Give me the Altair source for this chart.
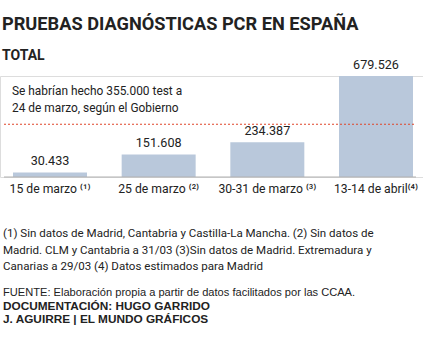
import altair as alt
import pandas as pd

categories = ["15 de marzo ⁽¹⁾", "25 de marzo ⁽²⁾", "30-31 de marzo ⁽³⁾", "13-14 de abril⁽⁴⁾"]
values = [30433, 151608, 234387, 679526]
government_estimate = 355000

title_text = "PRUEBAS DIAGNÓSTICAS PCR EN ESPAÑA"
subtitle_text = "TOTAL"
note_lines = ["Se habrían hecho 355.000 test a", "24 de marzo, según el Gobierno"]
footnote_lines = [
    "(1) Sin datos de Madrid, Cantabria y Castilla-La Mancha. (2) Sin datos de",
    "Madrid. CLM y Cantabria a 31/03 (3)Sin datos de Madrid. Extremadura y",
    "Canarias a 29/03 (4) Datos estimados para Madrid",
]
source_line = "FUENTE: Elaboración propia a partir de datos facilitados por las CCAA."
credit_lines = ["DOCUMENTACIÓN: HUGO GARRIDO", "J. AGUIRRE | EL MUNDO GRÁFICOS"]

df = pd.DataFrame({
    "cat": categories,
    "value": values,
    "label": [f"{v:,}".replace(",", ".") for v in values],
})

FONT = "Roboto"
SRC_FONT = "Liberation Sans"
TXT = "#222222"
TOP = 76

x_enc = alt.X("cat:N", sort=None, title=None,
              scale=alt.Scale(paddingInner=0.319, paddingOuter=0.1058, align=0.565),
              axis=alt.Axis(domain=False, ticks=False, labelAngle=0, labelFont=FONT,
                            labelFontSize=12.2, labelColor=TXT, labelPadding=5))
y_enc = alt.Y("value:Q", title=None, axis=None,
              scale=alt.Scale(domain=[0, max(values)], nice=False))

base = alt.Chart(df)
bars = base.mark_bar(color="#b9c8db").encode(x=x_enc, y=y_enc)
vals = base.mark_text(font=FONT, fontSize=12.6, color=TXT, baseline="alphabetic", dy=-7).encode(
    x=alt.X("cat:N", sort=None), y="value:Q", text="label:N")

red = alt.Chart(pd.DataFrame({"v": [government_estimate]})).mark_rule(
    color="#e0452a", strokeDash=[2, 2], strokeWidth=1.2).encode(
    y="v:Q", x=alt.value(4), x2=alt.value(416))
zero = alt.Chart(pd.DataFrame({"v": [0]})).mark_rule(color="#b0b0b0", strokeWidth=1).encode(
    y="v:Q", x=alt.value(4), x2=alt.value(416))

def txt(text, x, y, size, weight="normal", lh=None, font=FONT):
    kw = dict(font=font, fontSize=size, fontWeight=weight, color=TXT, align="left",
              baseline="alphabetic", text=text)
    if lh:
        kw["lineHeight"] = lh
    return alt.Chart(pd.DataFrame({"a": [0]})).mark_text(**kw).encode(
        x=alt.value(x), y=alt.value(y - TOP))

texts = [
    txt(title_text, 2, 29.5, 18.2, "bold"),
    txt(subtitle_text, 2, 60, 14, "bold"),
    txt(note_lines, 12, 95, 11.9, lh=17),
    txt(footnote_lines, 3, 237, 11.55, lh=16.5),
    txt(source_line, 3, 296, 11.1, font=SRC_FONT),
    txt(credit_lines, 3, 309.5, 11.8, "bold", lh=13, font=SRC_FONT),
]

chart = alt.layer(bars, red, zero, vals, *texts).properties(
    width=423, height=101,
    autosize=alt.AutoSizeParams(type="none"),
    padding={"left": 0, "top": TOP, "right": 0, "bottom": 339 - 177},
).configure_view(stroke=None).configure(background="white")

chart.save("out.html", embed_options={"renderer": "svg", "actions": False})
